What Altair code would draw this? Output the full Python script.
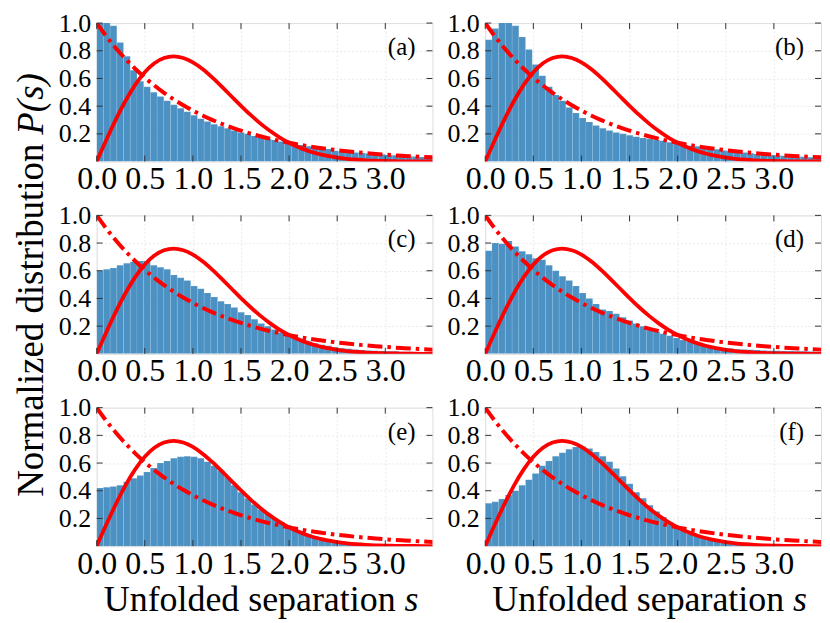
import altair as alt
import pandas as pd

# ---------------- data ----------------
N_BINS = 50
BIN_WIDTH = 0.0698
XMAX = 3.49

HIST_A = [1.08, 1.02, 0.98, 0.86, 0.76, 0.66, 0.58, 0.54, 0.50, 0.47,
          0.44, 0.41, 0.385, 0.36, 0.335, 0.31, 0.29, 0.27, 0.255, 0.24,
          0.225, 0.21, 0.20, 0.185, 0.175, 0.165, 0.155, 0.145, 0.14, 0.13,
          0.12, 0.11, 0.10, 0.095, 0.09, 0.078, 0.073, 0.07, 0.066, 0.062,
          0.058, 0.055, 0.052, 0.048, 0.045, 0.042, 0.039, 0.036, 0.033, 0.03]
HIST_B = [0.88, 0.96, 1.02, 1.01, 0.98, 0.90, 0.81, 0.70, 0.62, 0.54,
          0.48, 0.44, 0.39, 0.35, 0.315, 0.285, 0.26, 0.24, 0.225, 0.21,
          0.20, 0.19, 0.18, 0.17, 0.165, 0.155, 0.15, 0.14, 0.135, 0.125,
          0.115, 0.11, 0.10, 0.095, 0.088, 0.08, 0.075, 0.07, 0.065, 0.06,
          0.055, 0.05, 0.048, 0.045, 0.042, 0.04, 0.037, 0.035, 0.032, 0.03]
HIST_C = [0.60, 0.61, 0.62, 0.64, 0.655, 0.665, 0.67, 0.67, 0.64, 0.625,
          0.61, 0.57, 0.55, 0.53, 0.49, 0.47, 0.44, 0.41, 0.38, 0.36,
          0.335, 0.30, 0.28, 0.25, 0.22, 0.20, 0.175, 0.155, 0.14, 0.12,
          0.10, 0.09, 0.077, 0.065, 0.058, 0.048, 0.041, 0.036, 0.031, 0.027,
          0.024, 0.022, 0.02, 0.019, 0.018, 0.016, 0.015, 0.013, 0.012, 0.01]
HIST_D = [0.745, 0.80, 0.795, 0.815, 0.776, 0.74, 0.72, 0.69, 0.68, 0.64,
          0.60, 0.56, 0.53, 0.49, 0.44, 0.40, 0.36, 0.32, 0.31, 0.29,
          0.265, 0.24, 0.22, 0.20, 0.18, 0.16, 0.145, 0.13, 0.115, 0.10,
          0.09, 0.077, 0.067, 0.058, 0.05, 0.043, 0.038, 0.034, 0.031, 0.029,
          0.027, 0.025, 0.023, 0.022, 0.021, 0.02, 0.019, 0.018, 0.017, 0.016]
HIST_E = [0.42, 0.425, 0.43, 0.44, 0.465, 0.49, 0.51, 0.535, 0.565, 0.60,
          0.615, 0.635, 0.645, 0.65, 0.645, 0.635, 0.61, 0.58, 0.545, 0.50,
          0.44, 0.39, 0.345, 0.30, 0.265, 0.235, 0.20, 0.175, 0.15, 0.13,
          0.105, 0.087, 0.072, 0.06, 0.048, 0.039, 0.031, 0.026, 0.022, 0.019,
          0.017, 0.015, 0.014, 0.013, 0.012, 0.011, 0.01, 0.009, 0.008, 0.008]
HIST_F = [0.31, 0.32, 0.34, 0.37, 0.40, 0.44, 0.48, 0.525, 0.58, 0.615,
          0.65, 0.675, 0.70, 0.715, 0.72, 0.705, 0.68, 0.65, 0.61, 0.56,
          0.505, 0.45, 0.39, 0.345, 0.295, 0.25, 0.21, 0.17, 0.14, 0.115,
          0.09, 0.075, 0.06, 0.048, 0.039, 0.031, 0.024, 0.019, 0.017, 0.014,
          0.012, 0.011, 0.01, 0.009, 0.008, 0.008, 0.007, 0.007, 0.006, 0.006]

CURVE_S = [0.0, 0.1, 0.2, 0.3, 0.4, 0.5, 0.6, 0.7, 0.8, 0.9, 1.0, 1.1, 1.2,
           1.3, 1.4, 1.5, 1.6, 1.7, 1.8, 1.9, 2.0, 2.1, 2.2, 2.3, 2.4, 2.5,
           2.6, 2.7, 2.8, 2.9, 3.0, 3.1, 3.2, 3.3, 3.4, 3.5]
WIGNER = [0.0, 0.1559, 0.3044, 0.4391, 0.5541, 0.6454, 0.7103, 0.7483,
          0.7602, 0.7483, 0.7162, 0.6680, 0.6083, 0.5416, 0.4717, 0.4025,
          0.3365, 0.2759, 0.2220, 0.1752, 0.1358, 0.1033, 0.0772, 0.0567,
          0.0409, 0.0290, 0.0202, 0.0138, 0.0093, 0.0062, 0.0040, 0.0026,
          0.0016, 0.0010, 0.0006, 0.0004]
POISSON = [1.0, 0.9048, 0.8187, 0.7408, 0.6703, 0.6065, 0.5488, 0.4966,
           0.4493, 0.4066, 0.3679, 0.3329, 0.3012, 0.2725, 0.2466, 0.2231,
           0.2019, 0.1827, 0.1653, 0.1496, 0.1353, 0.1225, 0.1108, 0.1003,
           0.0907, 0.0821, 0.0743, 0.0672, 0.0608, 0.0550, 0.0498, 0.0450,
           0.0408, 0.0369, 0.0334, 0.0302]

X_TICKS = [0.0, 0.5, 1.0, 1.5, 2.0, 2.5, 3.0]
Y_TICKS = [0.2, 0.4, 0.6, 0.8, 1.0]
PANEL_LABELS = ["(a)", "(b)", "(c)", "(d)", "(e)", "(f)"]
HISTS = [HIST_A, HIST_B, HIST_C, HIST_D, HIST_E, HIST_F]

X_TITLE = "Unfolded separation"
X_TITLE_VAR = "s"
Y_TITLE = "Normalized distribution"
Y_TITLE_VAR = "P(s)"

# ---------------- style ----------------
SERIF = "Liberation Serif"
W, H = 337, 139
BLUE = "#4b91c3"
RED = "#ff0000"
TICK_LEN = 6

x_scale = alt.Scale(domain=[0, XMAX], nice=False, zero=False)
y_scale = alt.Scale(domain=[0, 1], nice=False, zero=False)

XAX = alt.Axis(values=X_TICKS, format=".1f", labelFont=SERIF, labelFontSize=32,
               labelColor="black", labelPadding=2, labelFlush=False,
               labelOverlap=False, ticks=False, domain=False, grid=True,
               gridColor="#e4e4e4", gridDash=[2, 2], gridWidth=0.8, title=None)
YAX = alt.Axis(values=Y_TICKS, format=".1f", labelFont=SERIF, labelFontSize=26,
               labelColor="black", labelPadding=6, labelFlush=False,
               labelOverlap=False, ticks=False, domain=False, grid=True,
               gridColor="#e4e4e4", gridDash=[2, 2], gridWidth=0.8, title=None)

curve_df = pd.DataFrame({"s": CURVE_S, "w": WIGNER, "p": POISSON})
xt_df = pd.DataFrame({"t": X_TICKS})
yt_df = pd.DataFrame({"t": Y_TICKS})


def panel(idx):
    hist = HISTS[idx]
    hdf = pd.DataFrame({
        "x0": [i * BIN_WIDTH for i in range(N_BINS)],
        "x1": [(i + 1) * BIN_WIDTH for i in range(N_BINS)],
        "h": hist,
    })
    bars = alt.Chart(hdf).mark_rect(clip=True, color=BLUE, stroke="#ffffff",
                                    strokeOpacity=0.18, strokeWidth=0.6).encode(
        x=alt.X("x0:Q", scale=x_scale, axis=XAX),
        x2="x1:Q",
        y=alt.Y("h:Q", scale=y_scale, axis=YAX),
        y2=alt.datum(0),
    )
    poisson = alt.Chart(curve_df).mark_line(
        clip=True, color=RED, strokeWidth=4, strokeDash=[15, 5, 3.5, 5],
        interpolate="monotone").encode(
        x=alt.X("s:Q", scale=x_scale, axis=XAX),
        y=alt.Y("p:Q", scale=y_scale, axis=YAX),
    )
    wigner = alt.Chart(curve_df).mark_line(
        clip=True, color=RED, strokeWidth=3.8, interpolate="monotone").encode(
        x=alt.X("s:Q", scale=x_scale, axis=XAX),
        y=alt.Y("w:Q", scale=y_scale, axis=YAX),
    )
    tick_style = dict(color="#333333", strokeWidth=1)
    xt_bottom = alt.Chart(xt_df).mark_rule(**tick_style).encode(
        x=alt.X("t:Q", scale=x_scale, axis=XAX),
        y=alt.value(H), y2=alt.value(H - TICK_LEN))
    xt_top = alt.Chart(xt_df).mark_rule(**tick_style).encode(
        x=alt.X("t:Q", scale=x_scale, axis=XAX),
        y=alt.value(0), y2=alt.value(TICK_LEN))
    yt_left = alt.Chart(yt_df).mark_rule(**tick_style).encode(
        y=alt.Y("t:Q", scale=y_scale, axis=YAX),
        x=alt.value(0), x2=alt.value(TICK_LEN))
    yt_right = alt.Chart(yt_df).mark_rule(**tick_style).encode(
        y=alt.Y("t:Q", scale=y_scale, axis=YAX),
        x=alt.value(W - TICK_LEN), x2=alt.value(W))
    label = alt.Chart(pd.DataFrame({"lab": [PANEL_LABELS[idx]]})).mark_text(
        align="right", baseline="middle", font=SERIF, fontSize=25,
        color="black").encode(
        x=alt.value(W - 17), y=alt.value(24), text="lab:N")

    layers = [bars, poisson, wigner, xt_bottom, xt_top, yt_left, yt_right, label]

    if idx in (4, 5):
        t1 = alt.Chart(pd.DataFrame({"t": [X_TITLE]})).mark_text(
            align="right", baseline="alphabetic", font=SERIF, fontSize=36,
            color="black").encode(x=alt.value(300), y=alt.value(H + 65), text="t:N")
        t2 = alt.Chart(pd.DataFrame({"t": [X_TITLE_VAR]})).mark_text(
            align="left", baseline="alphabetic", font=SERIF, fontSize=36,
            fontStyle="italic", color="black").encode(
            x=alt.value(309), y=alt.value(H + 65), text="t:N")
        layers += [t1, t2]
    if idx == 2:
        t1 = alt.Chart(pd.DataFrame({"t": [Y_TITLE]})).mark_text(
            align="right", baseline="alphabetic", font=SERIF, fontSize=37,
            angle=270, color="black").encode(
            x=alt.value(-54), y=alt.value(-72), text="t:N")
        t2 = alt.Chart(pd.DataFrame({"t": [Y_TITLE_VAR]})).mark_text(
            align="left", baseline="alphabetic", font=SERIF, fontSize=37,
            fontStyle="italic", angle=270, color="black").encode(
            x=alt.value(-54), y=alt.value(-81), text="t:N")
        layers += [t1, t2]

    return alt.layer(*layers).properties(width=W, height=H)


chart = alt.concat(*[panel(i) for i in range(6)], columns=2,
                   spacing={"row": 54, "column": 53}, bounds="flush").properties(
    padding={"left": 4, "top": 0, "right": 0, "bottom": 0}
).configure_view(stroke="#555555", strokeWidth=1).configure(background="white")

chart.save("out.html", embed_options={"renderer": "svg", "actions": False})
